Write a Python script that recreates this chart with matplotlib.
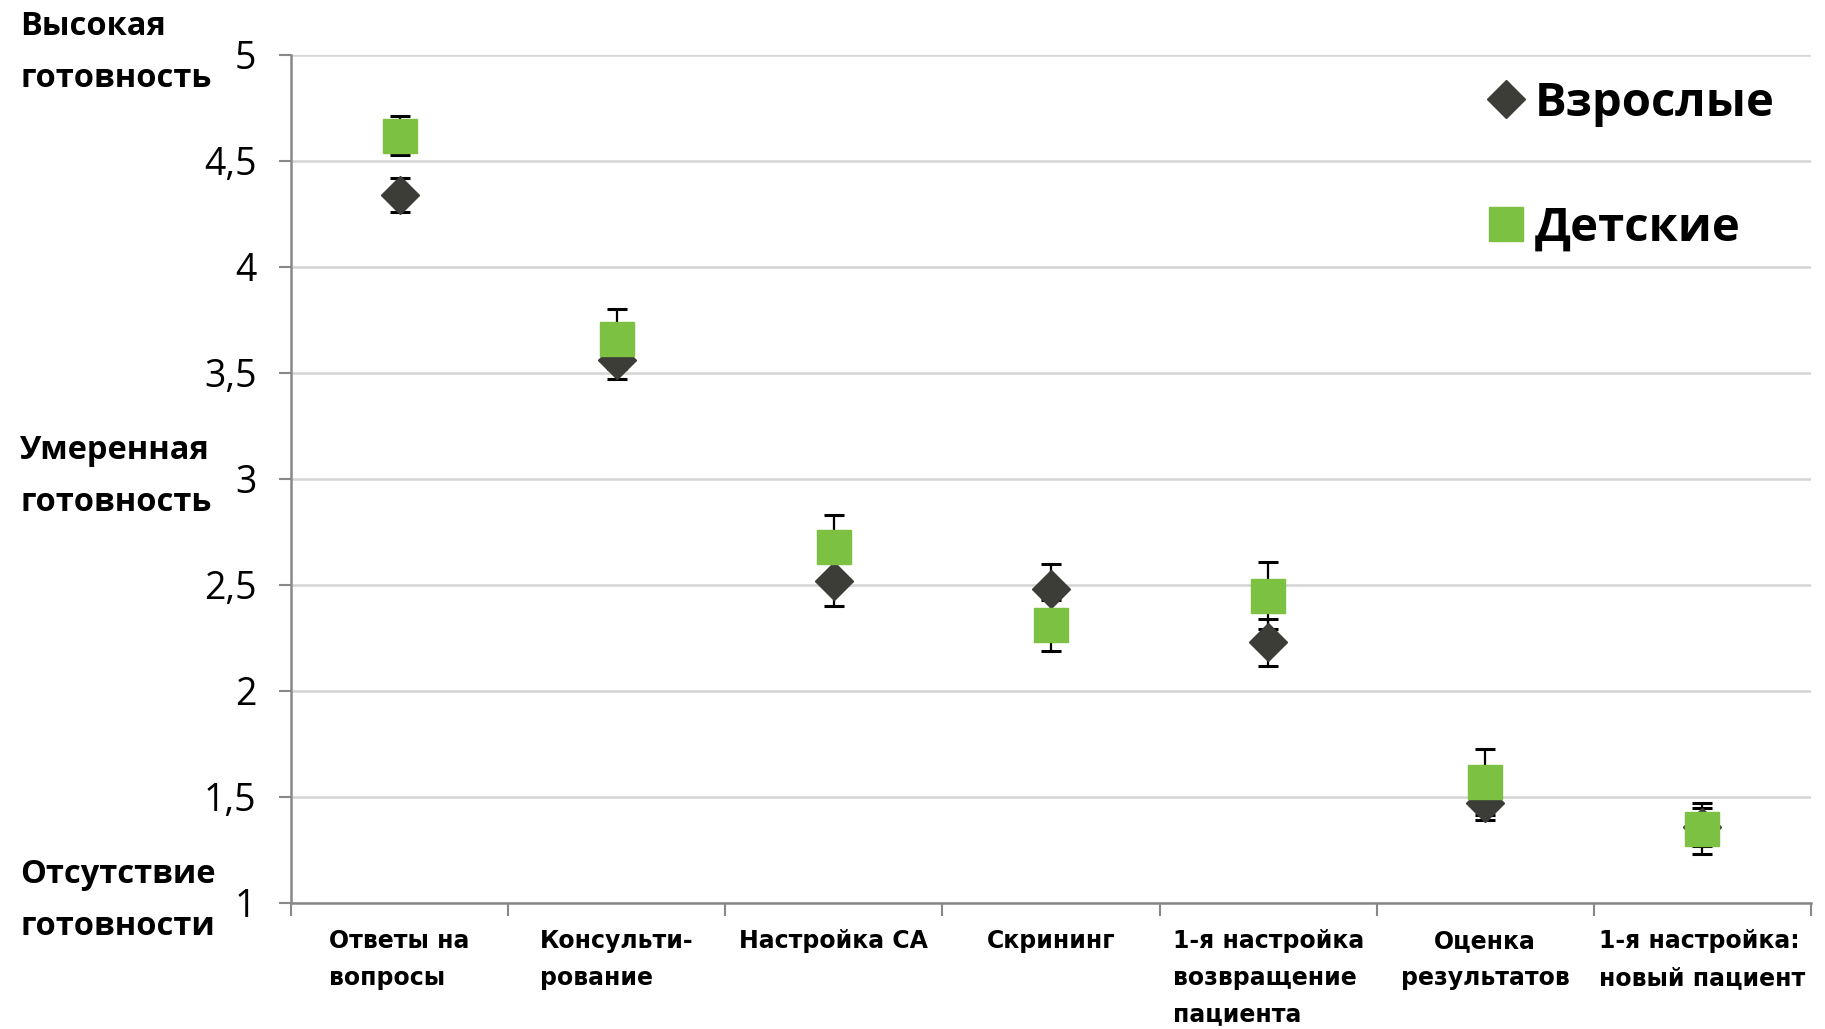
import matplotlib
matplotlib.use('Agg')
import matplotlib.pyplot as plt
import matplotlib.transforms as mtransforms

categories = ['Ответы на\nвопросы', 'Консульти-\nрование', 'Настройка СА', 'Скрининг',
              '1-я настройка\nвозвращение\nпациента', 'Оценка\nрезультатов',
              '1-я настройка:\nновый пациент']
adults = [4.34, 3.56, 2.52, 2.48, 2.23, 1.47, 1.36]
adults_err = [0.08, 0.09, 0.12, 0.12, 0.11, 0.08, 0.09]
kids = [4.62, 3.66, 2.68, 2.31, 2.45, 1.57, 1.35]
kids_err = [0.09, 0.14, 0.15, 0.12, 0.16, 0.155, 0.12]
ytick_values = [1, 1.5, 2, 2.5, 3, 3.5, 4, 4.5, 5]
ytick_labels = ['1', '1,5', '2', '2,5', '3', '3,5', '4', '4,5', '5']
side_labels = {5: 'Высокая\nготовность', 3: 'Умеренная\nготовность', 1: 'Отсутствие\nготовности'}

green = '#7cc142'
dark = '#3d3d38'

fig = plt.figure(figsize=(18.25, 10.29), dpi=100)
ax = fig.add_axes([0.1595, 0.1225, 0.8328, 0.8241])

x = list(range(1, len(categories) + 1))

ax.errorbar(x, adults, yerr=adults_err, fmt='none', ecolor='black', elinewidth=1.6,
            capsize=7, capthick=2.2, zorder=2)
ax.errorbar(x, kids, yerr=kids_err, fmt='none', ecolor='black', elinewidth=1.6,
            capsize=7, capthick=2.2, zorder=2)
ax.plot(x, adults, linestyle='none', marker='D', markersize=19, color=dark,
        label='Взрослые', zorder=3)
ax.plot(x, kids, linestyle='none', marker='s', markersize=25, color=green,
        label='Детские', zorder=4)

ax.set_xlim(0.5, len(categories) + 0.5)
ax.set_ylim(1, 5)

ax.set_yticks(ytick_values)
ax.set_yticklabels(ytick_labels, fontsize=27, family='Open Sans', fontweight='medium')
ax.tick_params(axis='y', length=9, width=1.5, color='#888888', pad=16)

ax.set_xticks([i + 0.5 for i in range(len(categories) + 1)])
ax.set_xticklabels([])
ax.tick_params(axis='x', which='major', length=9, width=1.5, color='#888888')
ax.set_xticks(x, minor=True)
ax.set_xticklabels(categories, minor=True, fontsize=17, fontweight='bold',
                   family='DejaVu Sans', linespacing=1.65, va='top')
ax.tick_params(axis='x', which='minor', length=0, pad=19)
for lab in ax.get_xticklabels(minor=True):
    if lab.get_text().startswith('Оценка'):
        lab.set_multialignment('center')
    else:
        lab.set_multialignment('left')

ax.yaxis.grid(True, color='#d4d4d4', linewidth=1.8, zorder=0)
ax.set_axisbelow(True)
for side in ['top', 'right']:
    ax.spines[side].set_visible(False)
for side in ['left', 'bottom']:
    ax.spines[side].set_color('#888888')
    ax.spines[side].set_linewidth(1.8)

trans = mtransforms.blended_transform_factory(fig.transFigure, ax.transData)
for yv, txt in side_labels.items():
    ax.text(0.011, yv + 0.01, txt, transform=trans, ha='left', va='center', fontsize=23.5,
            fontweight='bold', family='Open Sans', linespacing=1.75)

ax.legend(loc='upper right', bbox_to_anchor=(0.992, 1.0), frameon=False,
          prop={'family': 'Open Sans', 'weight': 'bold', 'size': 34},
          handlelength=0.6, handletextpad=0.3, labelspacing=1.65, borderaxespad=0.12)

plt.savefig('out.png', dpi=100)
